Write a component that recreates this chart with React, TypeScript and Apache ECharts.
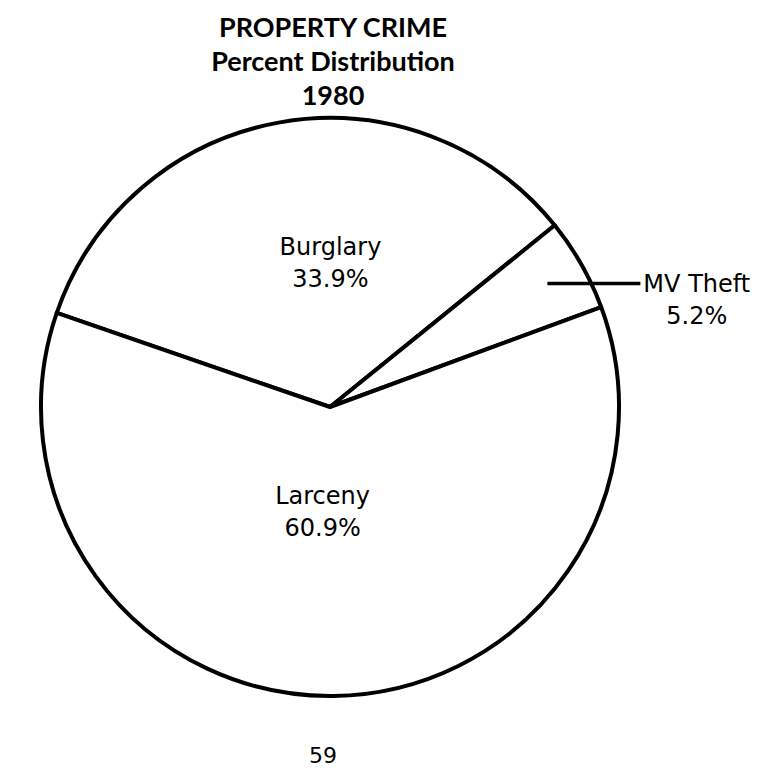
import React, { useEffect, useRef } from 'react';
import * as echarts from 'echarts';

const categories = ['Burglary', 'MV Theft', 'Larceny'];
const percents = [33.9, 5.2, 60.9];
const titleLines = ['PROPERTY CRIME', 'Percent Distribution', '1980'];
const pageNumber = '59';

const labelFamily = '"DejaVu Sans", sans-serif';
const titleFamily = '"Lato", sans-serif';

export default function App() {
  const ref = useRef<HTMLDivElement>(null);

  useEffect(() => {
    if (!ref.current) return;
    const chart = echarts.init(ref.current, null, { renderer: 'svg' });
    const data = categories.map((name, i) => ({ name, value: percents[i] }));
    const insideOffsets: Record<string, number[]> = {
      Burglary: [26, 1],
      Larceny: [-9, -42],
    };

    chart.setOption({
      animation: false,
      backgroundColor: '#ffffff',
      graphic: [
        {
          type: 'text',
          x: 333,
          y: 60,
          z: 10,
          style: {
            text: titleLines.join('\n'),
            font: `bold 27px ${titleFamily}`,
            fill: '#000',
            textAlign: 'center',
            textVerticalAlign: 'middle',
            lineHeight: 34,
          },
        },
        {
          type: 'text',
          x: 323,
          y: 755,
          style: {
            text: pageNumber,
            font: `22px ${labelFamily}`,
            fill: '#000',
            textAlign: 'center',
            textVerticalAlign: 'middle',
          },
        },
      ],
      series: [
        {
          type: 'pie',
          z: 2,
          center: [330, 407],
          radius: 289,
          startAngle: 161,
          clockwise: true,
          avoidLabelOverlap: false,
          silent: true,
          emphasis: { disabled: true },
          itemStyle: { color: '#ffffff', borderColor: '#000', borderWidth: 4 },
          label: {
            show: true,
            position: 'inside',
            color: '#000',
            fontFamily: labelFamily,
            fontSize: 24,
            lineHeight: 32,
            formatter: (p: any) => `${p.name}\n${Number(p.value).toFixed(1)}%`,
          },
          labelLine: { show: false },
          labelLayout: (params: any) => {
            const o = insideOffsets[categories[params.dataIndex]] || [0, 0];
            return { dx: o[0], dy: o[1] };
          },
          data: data.map((d) =>
            d.name === 'MV Theft' ? { ...d, label: { show: false } } : d
          ),
        },
        {
          type: 'pie',
          z: 5,
          center: [330, 407],
          radius: 250,
          startAngle: 161,
          clockwise: true,
          avoidLabelOverlap: false,
          silent: true,
          emphasis: { disabled: true },
          itemStyle: { color: 'rgba(0,0,0,0)', borderWidth: 0 },
          label: {
            show: true,
            position: 'outside',
            alignTo: 'none',
            distanceToLabelLine: 3,
            padding: [32, 0, 0, 0],
            formatter: (p: any) => `{t|${p.name}}\n{t|${Number(p.value).toFixed(1)}%}`,
            rich: {
              t: {
                fontFamily: labelFamily,
                fontSize: 24,
                lineHeight: 32,
                color: '#000',
                align: 'center',
              },
            },
          },
          labelLine: {
            show: true,
            length: 0,
            length2: 93,
            smooth: false,
            lineStyle: { color: '#000', width: 3.5 },
          },
          data: data.map((d) =>
            d.name === 'MV Theft'
              ? d
              : { ...d, label: { show: false }, labelLine: { show: false } }
          ),
        },
      ],
    });

    return () => chart.dispose();
  }, []);

  return (
    <div
      ref={ref}
      style={{ position: 'fixed', left: 0, top: 0, width: 771, height: 770, background: '#fff' }}
    />
  );
}
